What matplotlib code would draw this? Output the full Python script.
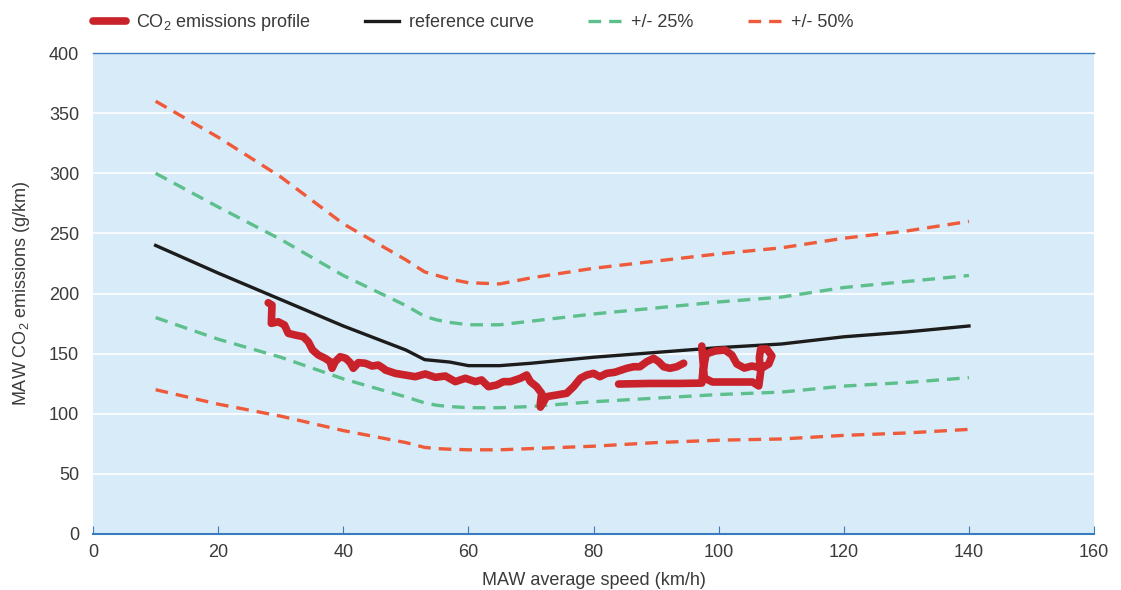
import numpy as np
from matplotlib import pyplot as plt

plt.rcParams['font.family'] = ['Liberation Sans', 'DejaVu Sans']
plt.rcParams['mathtext.default'] = 'regular'

## reference curve and bands ##
speed = [10, 20, 30, 40, 50, 53, 55, 57, 60, 65, 70, 80, 90, 100, 110, 120, 130, 140]
reference = [240, 217, 195, 173, 153, 145, 144, 143, 140, 140, 142, 147, 151, 155, 158, 164, 168, 173]
upper_25 = [300, 272, 245, 215, 190, 181, 178, 176, 174, 174, 177, 183, 188, 193, 197, 205, 210, 215]
lower_25 = [180, 162, 147, 129, 114, 109, 107, 106, 105, 105, 106, 110, 113, 116, 118, 123, 126, 130]
upper_50 = [360, 330, 297, 258, 228, 218, 215, 212, 209, 208, 213, 221, 227, 233, 238, 246, 252, 260]
lower_50 = [120, 108, 98, 86, 76, 72, 71, 70.5, 70, 70, 71, 73, 76, 78, 79, 82, 84, 87]

## measured profile (NaN = gap) ##
profile_speed = [28.0, 28.6, 28.5, 29.6, 30.6, 31.2, 32.3, 33.6, 34.4, 35.1, 36.0, 37.1, 37.9, 38.2,
                 38.7, 39.5, 40.4, 41.1, 41.6, 42.4, 43.5, 44.6, 45.6, 46.4, 46.7, 48.3, 49.9, 51.5,
                 53.1, 54.7, 56.3, 57.9, 59.5, 61.1, 62.1, 63.2, 64.5, 65.6, 66.7, 68.3, 69.3, 69.9,
                 70.9, 71.7, 71.5, 71.5, 72.5, 74.1, 75.7, 76.8, 77.9, 78.9, 80.0, 81.0, 82.1, 83.4,
                 85.3, 86.4, 87.4, 88.5, 89.6, 90.4, 91.2, 92.2, 93.3, 94.4, np.nan,
                 97.3, 97.5, 97.7, 99.0, 103.4, 105.4, 106.4, 106.7, 106.5, 106.7, 107.7, 108.5,
                 108.0, 106.9, 105.3, 104.1, 102.9, 102.1, 101.0, 99.4, 98.0, 97.5, 97.3, 93.8,
                 89.0, 84.0]
profile_co2 = [192.3, 190.4, 175.2, 176.5, 173.8, 166.9, 165.5, 164.1, 159.9, 153.0, 148.9, 146.1, 143.3, 137.8,
               143.3, 147.4, 146.1, 142.5, 137.8, 142.5, 142.0, 139.7, 140.5, 137.8, 136.4, 133.6, 132.2, 130.8,
               133.1, 130.3, 131.4, 126.7, 129.5, 126.7, 128.1, 122.5, 123.9, 126.7, 126.7, 129.5, 132.2, 126.7,
               122.5, 117.0, 108.7, 105.5, 114.2, 115.6, 117.0, 122.5, 129.5, 132.2, 133.6, 130.8, 133.6, 134.5,
               137.8, 139.1, 139.1, 143.3, 146.1, 143.3, 139.1, 137.8, 139.1, 142.0, np.nan,
               156.3, 143.0, 129.7, 126.4, 126.4, 126.4, 123.1, 134.7, 146.4, 153.8, 153.8, 148.0,
               141.4, 138.0, 139.7, 138.0, 141.4, 148.9, 153.0, 152.2, 149.7, 136.4, 125.5, 125.2,
               125.2, 124.7]

fig = plt.figure(figsize=(11.21, 5.90), dpi=100)
ax = fig.add_axes([0.083, 0.095, 0.893, 0.815])
ax.set_facecolor('#d7ecf8')

green = '#5dbf8c'
orange = '#ee5a3a'
dash = (0, (3.8, 2.4))

ax.plot(profile_speed, profile_co2, color='#c9222b', lw=5.5, solid_capstyle='round',
        solid_joinstyle='round', label='CO$_2$ emissions profile', zorder=5)
ax.plot(speed, reference, color='#1c1c1c', lw=2.4, label='reference curve', zorder=4)
ax.plot(speed, upper_25, color=green, lw=2.4, linestyle=dash, label='+/- 25%')
ax.plot(speed, lower_25, color=green, lw=2.4, linestyle=dash)
ax.plot(speed, upper_50, color=orange, lw=2.4, linestyle=dash, label='+/- 50%')
ax.plot(speed, lower_50, color=orange, lw=2.4, linestyle=dash)

ax.set_xlim(0, 160)
ax.set_ylim(0, 400)
ax.set_xticks(range(0, 161, 20))
ax.set_yticks(range(0, 401, 50))
ax.grid(axis='y', color='white', lw=1.2)
ax.set_axisbelow(True)

for side in ['left', 'right']:
    ax.spines[side].set_visible(False)
ax.spines['bottom'].set_color('#3b7cc0')
ax.spines['bottom'].set_linewidth(1.5)
ax.spines['top'].set_color('#3b7cc0')
ax.spines['top'].set_linewidth(1)
ax.tick_params(axis='x', direction='in', length=6, color='#3b7cc0', labelsize=13,
               labelcolor='#3a3a3a', pad=7)
ax.tick_params(axis='y', length=0, labelsize=13, labelcolor='#3a3a3a', pad=10)

ax.set_xlabel('MAW average speed (km/h)', fontsize=13, color='#3a3a3a', labelpad=8)
ax.set_ylabel('MAW CO$_2$ emissions (g/km)', fontsize=13, color='#3a3a3a', labelpad=12)

ax.legend(loc='center left', bbox_to_anchor=(0.0, 1.064), ncol=4, frameon=False,
          fontsize=13, handlelength=1.85, columnspacing=3.0, handletextpad=0.55,
          borderpad=0, borderaxespad=0, labelcolor='#3a3a3a')

plt.savefig('out.png')
